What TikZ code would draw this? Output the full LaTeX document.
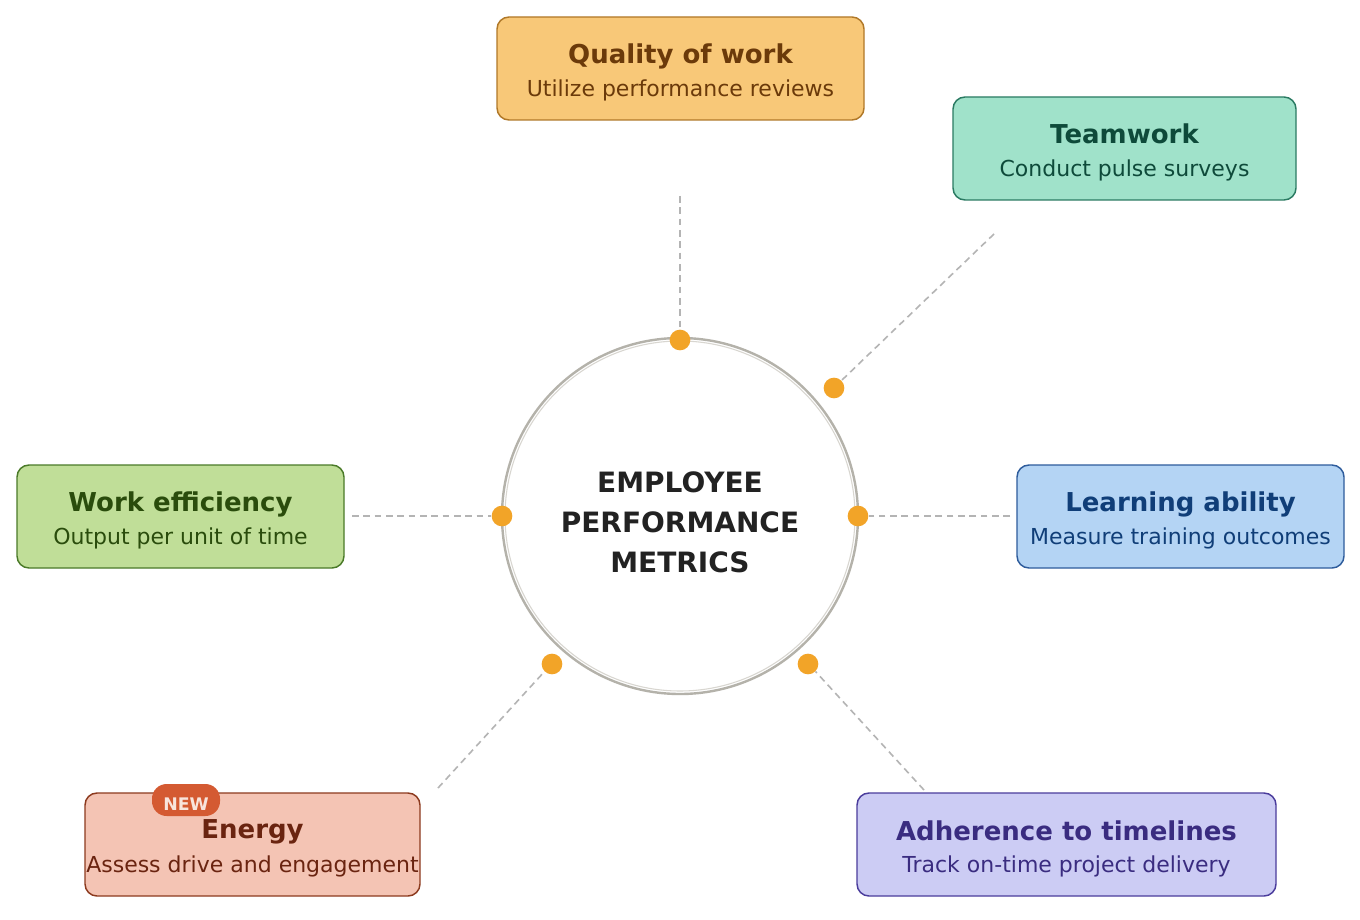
\documentclass[tikz,border=0pt]{standalone}
\usepackage{fontspec}
\setmainfont{DejaVu Sans}
\usetikzlibrary{calc}
\definecolor{qFill}{HTML}{F8C878}\definecolor{qLine}{HTML}{B07828}\definecolor{qText}{HTML}{6B3A0A}
\definecolor{tFill}{HTML}{A0E2CA}\definecolor{tLine}{HTML}{2A7A62}\definecolor{tText}{HTML}{0E4A3A}
\definecolor{lFill}{HTML}{B4D4F4}\definecolor{lLine}{HTML}{2E5C9C}\definecolor{lText}{HTML}{103E78}
\definecolor{eFill}{HTML}{C0DE98}\definecolor{eLine}{HTML}{4A7A28}\definecolor{eText}{HTML}{2A4C0C}
\definecolor{nFill}{HTML}{F4C4B4}\definecolor{nLine}{HTML}{8C3A1E}\definecolor{nText}{HTML}{6A2410}
\definecolor{aFill}{HTML}{CCCCF4}\definecolor{aLine}{HTML}{4A3C9C}\definecolor{aText}{HTML}{3A2C80}
\definecolor{dotC}{HTML}{F2A428}
\definecolor{dashC}{HTML}{B4B4B4}
\definecolor{ringC}{HTML}{B4B2AA}
\definecolor{ringIn}{HTML}{D8D6D0}
\definecolor{centerC}{HTML}{222222}
\definecolor{badgeC}{HTML}{D45A32}
\definecolor{badgeT}{HTML}{F8E4DC}
\begin{document}
\begin{tikzpicture}[x=0.75pt,y=-0.75pt,
  card/.style={draw=#1Line,fill=#1Fill,line width=1.1pt,rounded corners=9pt,
    minimum height=77.25pt,inner sep=0pt},
  ttl/.style={anchor=base,font=\bfseries\fontsize{19.5}{23}\selectfont,text=#1Text,inner sep=0pt},
  sub/.style={anchor=base,font=\fontsize{16.5}{20}\selectfont,text=#1Text,inner sep=0pt},
  link/.style={draw=dashC,line width=1.2pt,dash pattern=on 5pt off 3.5pt},
  dot/.style={circle,fill=dotC,minimum size=15.5pt,inner sep=0pt},
  ctext/.style={anchor=base,font=\bfseries\fontsize{21}{24}\selectfont,text=centerC,inner sep=0pt}]
\useasboundingbox (0,0) rectangle (1360,920);
\fill[white] (0,0) rectangle (1360,920);
% ring
\node[circle,draw=ringC,line width=1.8pt,minimum size=267pt,inner sep=0pt] (ring) at (680,516) {};
\node[circle,draw=ringIn,line width=0.8pt,minimum size=262.5pt,inner sep=0pt] (ringi) at (680,516) {};
\node[ctext] (c1) at (680,492) {EMPLOYEE};
\node[ctext] (c2) at (680,532) {PERFORMANCE};
\node[ctext] (c3) at (680,572) {METRICS};
% cards
\node[card=q,minimum width=275.25pt] (q) at (680.5,68.5) {};
\node[ttl=q] at ($(q.north)+(0,47.5)$) {Quality of work};
\node[sub=q] at ($(q.north)+(0,80)$) {Utilize performance reviews};
\node[card=t,minimum width=257.25pt] (t) at (1124.5,148.5) {};
\node[ttl=t] at ($(t.north)+(0,47.5)$) {Teamwork};
\node[sub=t] at ($(t.north)+(0,80)$) {Conduct pulse surveys};
\node[card=l,minimum width=245.25pt] (l) at (1180.5,516.5) {};
\node[ttl=l] at ($(l.north)+(0,47.5)$) {Learning ability};
\node[sub=l] at ($(l.north)+(0,80)$) {Measure training outcomes};
\node[card=e,minimum width=245.25pt] (e) at (180.5,516.5) {};
\node[ttl=e] at ($(e.north)+(0,47.5)$) {Work efficiency};
\node[sub=e] at ($(e.north)+(0,80)$) {Output per unit of time};
\node[card=n,minimum width=251.25pt] (n) at (252.5,844.5) {};
\node[ttl=n] at ($(n.north)+(0,46.5)$) {Energy};
\node[sub=n] at ($(n.north)+(0,80)$) {Assess drive and engagement};
\node[card=a,minimum width=314.25pt] (a) at (1066.5,844.5) {};
\node[ttl=a] at ($(a.north)+(0,48.5)$) {Adherence to timelines};
\node[sub=a] at ($(a.north)+(0,80)$) {Track on-time project delivery};
% badge
\node[fill=badgeC,rounded corners=11pt,minimum width=51pt,minimum height=24pt,inner sep=0pt] (badge) at (186,800) {};
\node[anchor=base,font=\bfseries\fontsize{13}{15}\selectfont,text=badgeT,inner sep=0pt] (badget) at (186,810.5) {NEW};
% dots
\node[dot] (dq) at (680,340) {};
\node[dot] (dt) at (834,388) {};
\node[dot] (dl) at (858,516) {};
\node[dot] (de) at (502,516) {};
\node[dot] (dn) at (552,664) {};
\node[dot] (da) at (808,664) {};
% link ends
\coordinate (eq) at (680,196);
\coordinate (et) at (994,234);
\coordinate (el) at (1010,516);
\coordinate (ee) at (352,516);
\coordinate (en) at (438,788);
\coordinate (ea) at (924,790);
\draw[link] (eq) -- (dq.north);
\draw[link] (et) -- (dt.north east);
\draw[link] (el) -- (dl.east);
\draw[link] (ee) -- (de.west);
\draw[link] (en) -- (dn.south west);
\draw[link] (ea) -- (da.south east);
\end{tikzpicture}
\end{document}
